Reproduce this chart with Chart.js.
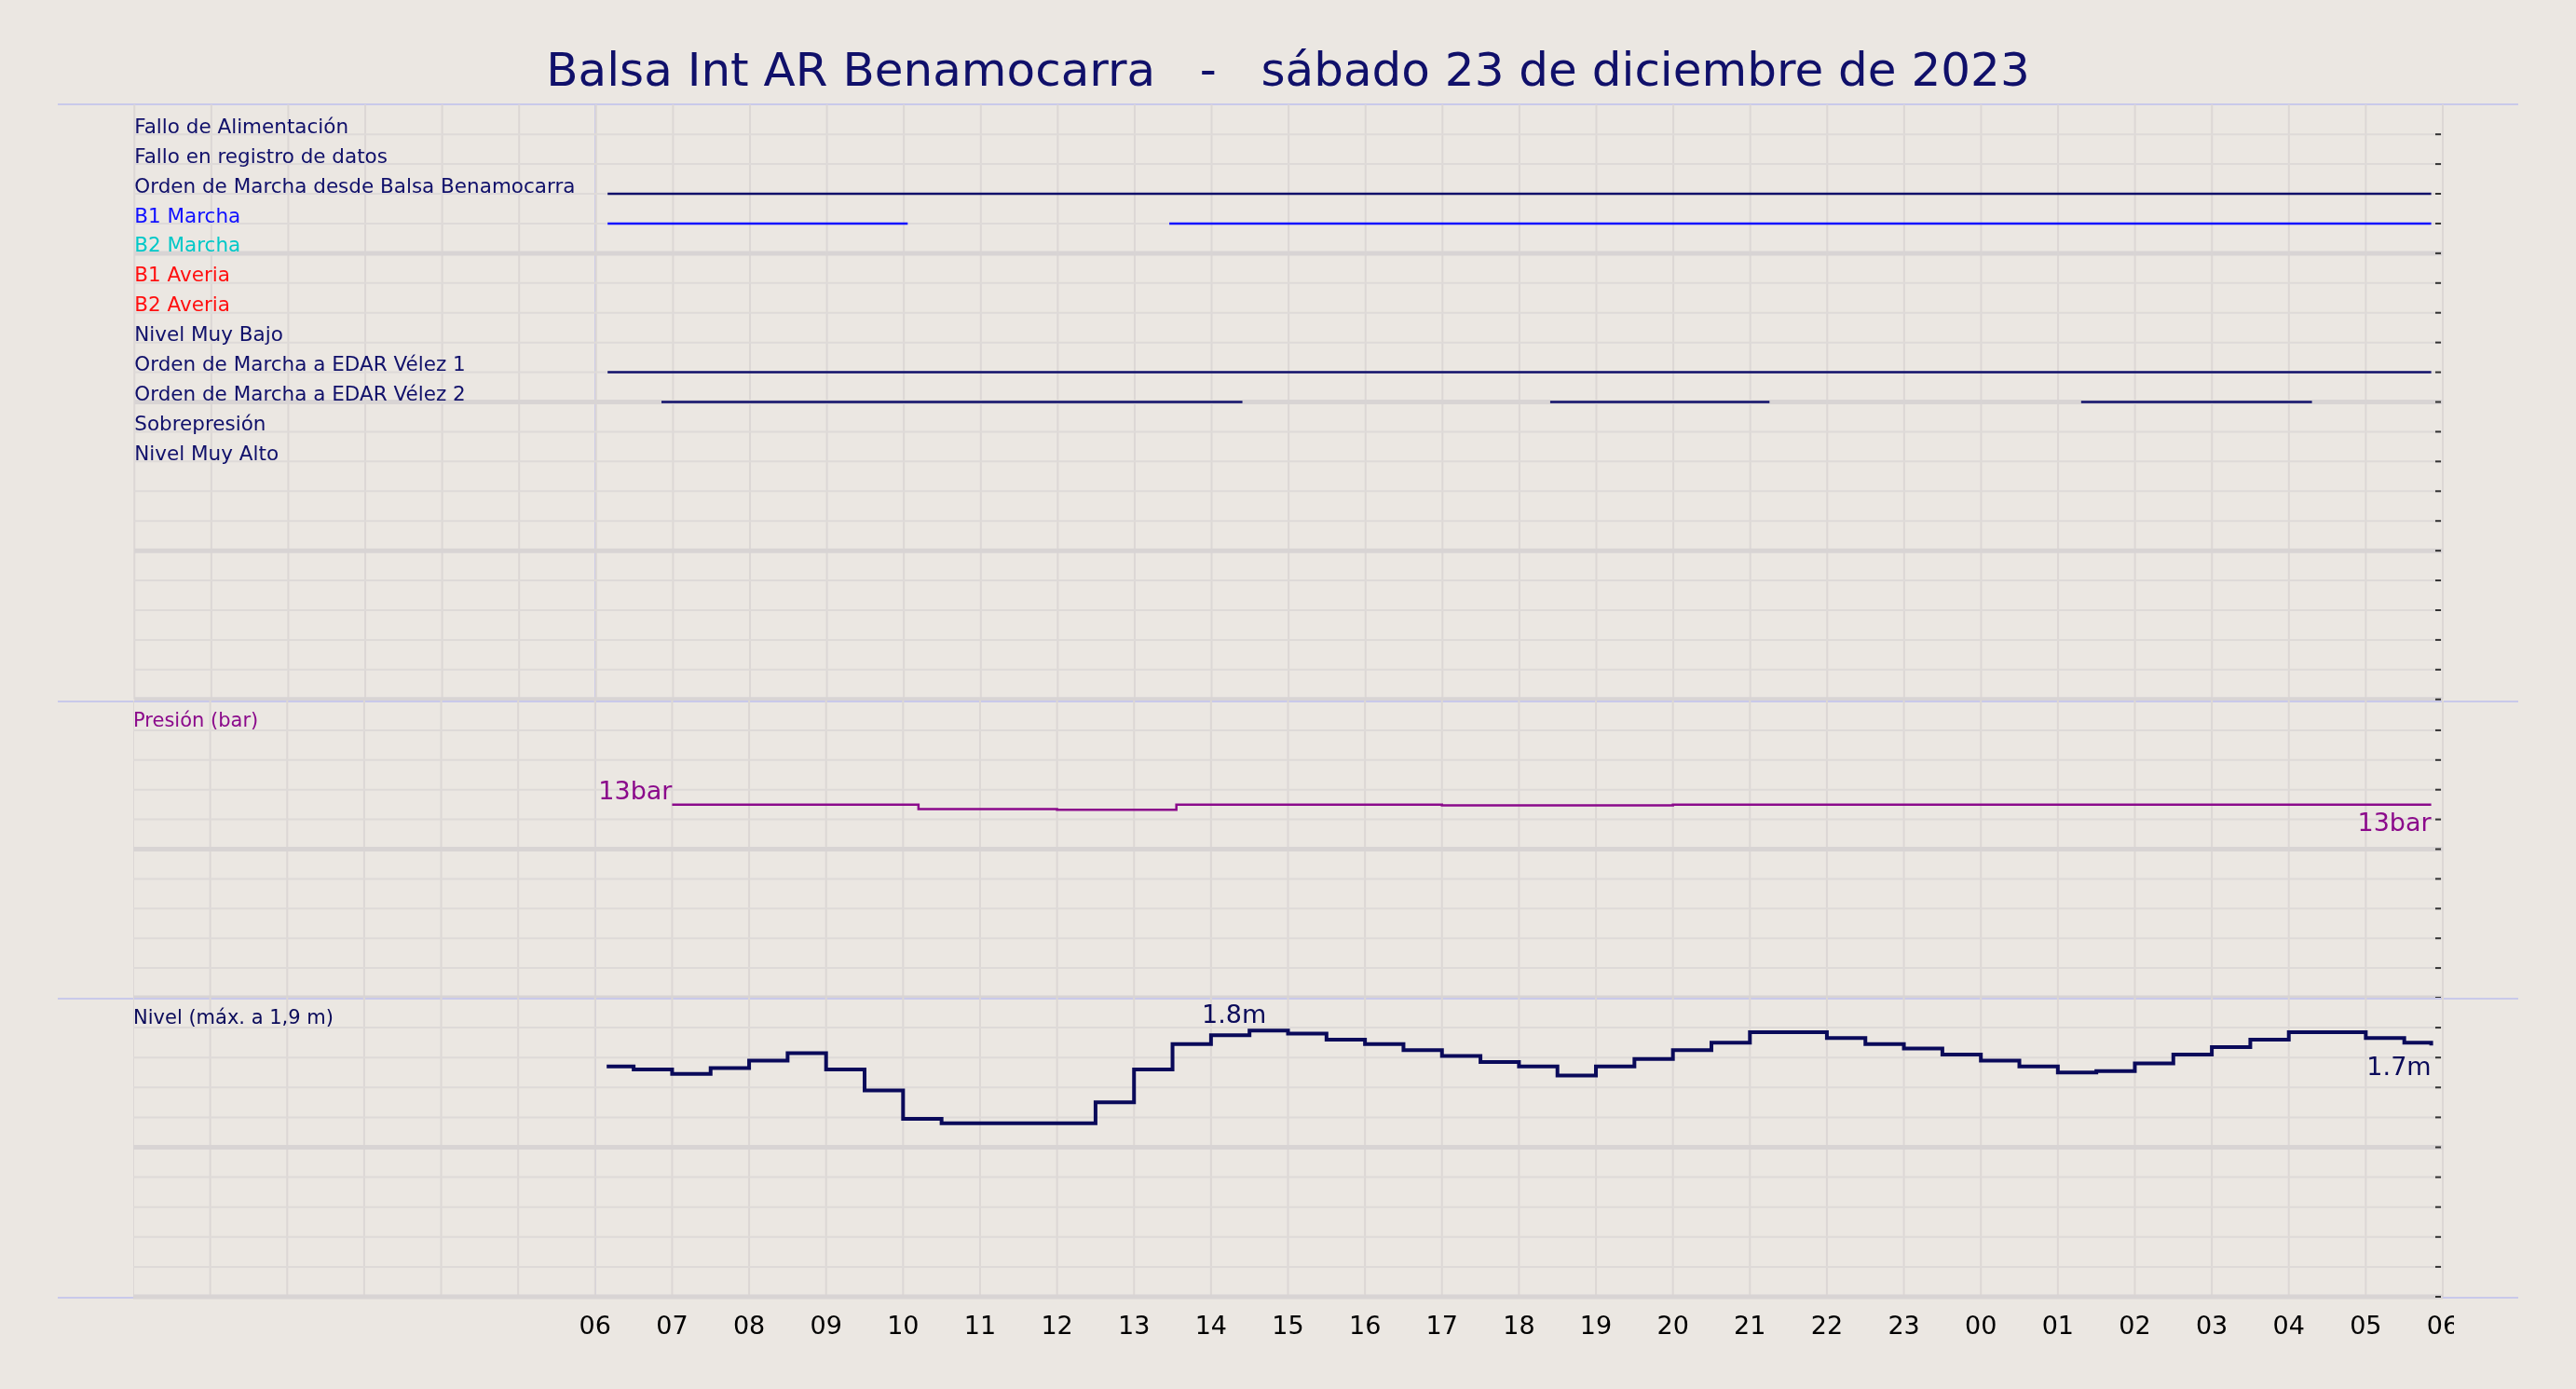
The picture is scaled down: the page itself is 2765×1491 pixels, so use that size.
<!DOCTYPE html>
<html><head><meta charset="utf-8">
<script src="https://cdn.jsdelivr.net/npm/chart.js@4"></script>
<style>
body{margin:0;background:#ebe7e2;width:2765px;height:1491px;overflow:hidden;font-family:'DejaVu Sans',sans-serif}
#title{position:absolute;top:46px;left:0;width:2765px;text-align:center;font-size:50px;color:#10106a}
.sep{position:absolute;left:62px;width:2641px;height:2px;background:#c9c9ea}
canvas{position:absolute}
</style></head><body>
<div id="title">Balsa Int AR Benamocarra &nbsp;&nbsp;- &nbsp;&nbsp;sábado 23 de diciembre de 2023</div>
<div class="sep" style="top:111px"></div>
<div class="sep" style="top:752px"></div>
<div class="sep" style="top:1071px"></div>
<div class="sep" style="top:1392px"></div>
<div style="position:absolute;left:638px;top:111px;width:2px;height:1282px;background:#c9c9ea"></div>
<canvas id="sig" style="left:143px;top:111px"></canvas>
<canvas id="pres" style="left:143px;top:752px"></canvas>
<canvas id="niv" style="left:143px;top:1071px"></canvas>
<script>
// hours measured from 00 of the day (06 = first labelled tick)
const signalNames = ['Fallo de Alimentación','Fallo en registro de datos','Orden de Marcha desde Balsa Benamocarra',
  'B1 Marcha','B2 Marcha','B1 Averia','B2 Averia','Nivel Muy Bajo','Orden de Marcha a EDAR Vélez 1',
  'Orden de Marcha a EDAR Vélez 2','Sobrepresión','Nivel Muy Alto'];
const signalColors = ['#10106a','#10106a','#10106a','#1010ff','#00c8c8','#ff1010','#ff1010','#10106a','#10106a','#10106a','#10106a','#10106a'];
// [row, start hour, end hour]
const signalOn = [
  [2, 6.15, 29.85],
  [3, 6.15, 10.05], [3, 13.45, 29.85],
  [8, 6.15, 29.85],
  [9, 6.85, 14.4], [9, 18.4, 21.25], [9, 25.3, 28.3]
];
const presHours = [7.0, 10.0, 10.2, 11.5, 12.0, 13.5, 13.55, 16.5, 17.0, 20.0, 24.0, 29.85];
const presValues = [13.0, 13.0, 12.7, 12.7, 12.65, 12.65, 13.0, 13.0, 12.95, 13.0, 13.0, 13.0];
const nivHours = [6.15,6.5,7,7.5,8,8.5,9,9.5,10,10.5,11,11.5,12,12.5,13,13.5,14,14.5,15,15.5,16,16.5,17,17.5,18,18.5,19,19.5,20,20.5,21,21.5,22,22.5,23,23.5,24,24.5,25,25.5,26,26.5,27,27.5,28,28.5,29,29.5,29.85];
const nivValues = [1.54,1.52,1.49,1.53,1.58,1.63,1.52,1.38,1.19,1.16,1.16,1.16,1.16,1.30,1.52,1.69,1.75,1.78,1.76,1.72,1.69,1.65,1.61,1.57,1.54,1.48,1.54,1.59,1.65,1.70,1.77,1.77,1.73,1.69,1.66,1.62,1.58,1.54,1.50,1.51,1.56,1.62,1.67,1.72,1.77,1.77,1.73,1.70,1.68];
const hourTicks = [6,7,8,9,10,11,12,13,14,15,16,17,18,19,20,21,22,23,24,25,26,27,28,29,30];

const W = 2479;
const grid = (rows, extra) => ({
  id: 'grid',
  beforeDatasetsDraw(chart) {
    const {ctx, chartArea: a, scales} = chart;
    ctx.save();
    ctx.strokeStyle = '#dcd7d5'; ctx.lineWidth = 2;
    for (let h = 0; h <= 30; h++) {
      const x = scales.x.getPixelForValue(h);
      ctx.beginPath(); ctx.moveTo(x, a.top); ctx.lineTo(x, a.bottom); ctx.stroke();
    }
    for (let i = 0; i < rows; i++) {
      const y = a.top + (i + 1) * (a.bottom - a.top) / rows;
      ctx.strokeStyle = (i % 5 == 4) ? '#d8d4d4' : '#dedad8';
      ctx.lineWidth = (i % 5 == 4) ? 5 : 2;
      ctx.beginPath(); ctx.moveTo(a.left, y); ctx.lineTo(a.right, y); ctx.stroke();
      ctx.strokeStyle = '#333'; ctx.lineWidth = 2;
      ctx.beginPath(); ctx.moveTo(a.right - 8, y); ctx.lineTo(a.right - 2, y); ctx.stroke();
    }
    ctx.restore();
  },
  afterDatasetsDraw(chart) { if (extra) extra(chart); }
});

function base(canvas, h, datasets, ymin, ymax, plugin, bottomPad) {
  canvas.width = W + 12; canvas.height = h;
  return new Chart(canvas, {
    type: 'line',
    data: { datasets },
    options: {
      responsive: false, animation: false,
      layout: { padding: { left: 0, right: 12, top: 0, bottom: bottomPad } },
      plugins: { legend: { display: false }, tooltip: { enabled: false } },
      elements: { point: { radius: 0 } },
      scales: {
        x: { type: 'linear', min: 0, max: 30, display: false },
        y: { min: ymin, max: ymax, display: false }
      }
    },
    plugins: [plugin]
  });
}

// signals panel
const sigSets = signalOn.map(([r, s, e]) => ({
  data: [{x: s, y: r}, {x: e, y: r}], borderColor: signalColors[r], borderWidth: 2.5
}));
const sigChart = base(document.getElementById('sig'), 641, sigSets, -1, 19, grid(20, chart => {
  const {ctx, scales} = chart;
  ctx.save(); ctx.font = '21.5px DejaVu Sans'; ctx.textBaseline = 'middle';
  signalNames.forEach((n, i) => {
    ctx.fillStyle = signalColors[i];
    ctx.fillText(n, chart.chartArea.left, scales.y.getPixelForValue(i) - 7);
  });
  ctx.restore();
}), 0);
sigChart.options.scales.y.reverse = true; sigChart.update();

// pressure panel
base(document.getElementById('pres'), 319,
  [{ data: presHours.map((h, i) => ({x: h, y: presValues[i]})), borderColor: '#8b0a8b', borderWidth: 2.5, stepped: true }],
  0, 20, grid(10, chart => {
    const {ctx, scales, chartArea: a} = chart;
    ctx.save(); ctx.fillStyle = '#8b0a8b';
    ctx.font = '21px DejaVu Sans'; ctx.fillText('Presión (bar)', a.left, a.top + 28);
    ctx.font = '27px DejaVu Sans';
    ctx.textAlign = 'right'; ctx.fillText('13bar', scales.x.getPixelForValue(7), scales.y.getPixelForValue(13) - 6);
    ctx.fillText('13bar', scales.x.getPixelForValue(29.85), scales.y.getPixelForValue(13) + 28);
    ctx.restore();
  }), 0);

// level panel
base(document.getElementById('niv'), 380,
  [{ data: nivHours.map((h, i) => ({x: h, y: nivValues[i]})), borderColor: '#0a0a5a', borderWidth: 4, stepped: true }],
  0, 2, grid(10, chart => {
    const {ctx, scales, chartArea: a} = chart;
    ctx.save(); ctx.fillStyle = '#0a0a5a';
    ctx.font = '21px DejaVu Sans'; ctx.fillText('Nivel (máx. a 1,9 m)', a.left, a.top + 28);
    ctx.font = '27px DejaVu Sans'; ctx.textAlign = 'center';
    ctx.fillText('1.8m', scales.x.getPixelForValue(14.3), scales.y.getPixelForValue(1.78) - 8);
    ctx.textAlign = 'right';
    ctx.fillText('1.7m', scales.x.getPixelForValue(29.85), scales.y.getPixelForValue(1.68) + 32);
    ctx.fillStyle = '#000'; ctx.textAlign = 'center'; ctx.textBaseline = 'middle';
    hourTicks.forEach(h => ctx.fillText(String(h % 24).padStart(2, '0'), scales.x.getPixelForValue(h), a.bottom + 33));
    ctx.restore();
  }), 59);
</script>
</body></html>
